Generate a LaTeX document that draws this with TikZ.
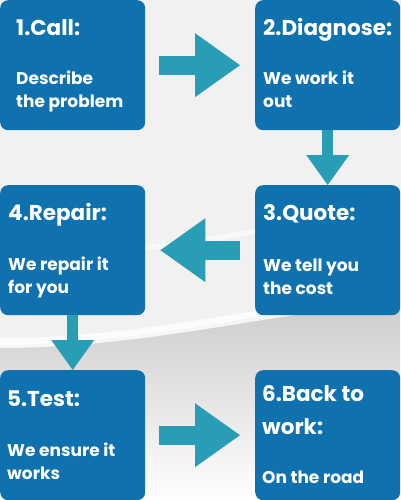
\documentclass[tikz,border=0pt]{standalone}
\usepackage{fontspec}
\setmainfont{Poppins}
\usetikzlibrary{arrows.meta,positioning,calc}
\definecolor{stepblue}{HTML}{0F72AF}
\definecolor{flowteal}{HTML}{2A9DB6}
\definecolor{paper}{HTML}{F1F1F1}
\definecolor{shade}{HTML}{E4E4E4}
\tikzset{
  card/.style={fill=stepblue,rounded corners=8pt,minimum width=145pt,minimum height=130pt,inner sep=0pt,anchor=north west},
  title/.style={anchor=base west,inner sep=0pt,text=white,font=\fontsize{21.5}{33}\selectfont\bfseries,align=left},
  body/.style={anchor=base west,inner sep=0pt,text=white,font=\fontsize{17}{23}\selectfont\bfseries,align=left},
  wide/.style={-{Triangle[length=45pt,width=64pt,line width=0pt]},line width=19pt,draw=flowteal},
  slim/.style={-{Triangle[length=30pt,width=43pt,line width=0pt]},line width=11pt,draw=flowteal},
}

\begin{document}
\begin{tikzpicture}[x=1pt,y=-1pt]
  \useasboundingbox (0,0) rectangle (400,500);
  % background and the white wave
  \fill[shade] (0,0) rectangle (400,500);
  \fill[paper] (0,0) -- (400,0) -- (400,300) .. controls (280,305) and (150,345) .. (0,345) -- cycle;
  \draw[white,line width=10pt,opacity=.8] (0,343) .. controls (150,343) and (280,305) .. (400,298);
  \draw[white,line width=5pt,opacity=.6] (0,250) .. controls (150,260) and (260,230) .. (400,200);

  \node[card] (call) at (0,0) {};
  \node[card] (diagnose) at (255,0) {};
  \node[card] (quote) at (255,185) {};
  \node[card] (repair) at (0,185) {};
  \node[card] (test) at (0,370) {};
  \node[card] (back) at (255,370) {};

  % base of a two-line node = baseline of its last line
  \node[title] (callT) at ([shift={(16,36)}]call.north west) {1.Call:};
  \node[body] (callB) at ([shift={(16,108)}]call.north west) {Describe\\the problem};
  \node[title] (diagnoseT) at ([shift={(8,36)}]diagnose.north west) {2.Diagnose:};
  \node[body] (diagnoseB) at ([shift={(8,108)}]diagnose.north west) {We work it\\out};
  \node[title] (quoteT) at ([shift={(8,35)}]quote.north west) {3.Quote:};
  \node[body] (quoteB) at ([shift={(8,109)}]quote.north west) {We tell you\\the cost};
  \node[title] (repairT) at ([shift={(8,35)}]repair.north west) {4.Repair:};
  \node[body] (repairB) at ([shift={(8,108)}]repair.north west) {We repair it\\for you};
  \node[title] (testT) at ([shift={(7,36)}]test.north west) {5.Test:};
  \node[body] (testB) at ([shift={(7,109)}]test.north west) {We ensure it\\works};
  \node[title] (backT) at ([shift={(7,64)}]back.north west) {6.Back to\\work:};
  \node[body] (backB) at ([shift={(7,113)}]back.north west) {On the road};

  \draw[wide] ([xshift=14pt]call.east) -- ([xshift=-15pt]diagnose.west);
  \draw[slim] (diagnose.south) -- (quote.north);
  \draw[wide] ([xshift=-15pt]quote.west) -- ([xshift=15pt]repair.east);
  \draw[slim] (repair.south) -- (test.north);
  \draw[wide] ([xshift=14pt]test.east) -- ([xshift=-15pt]back.west);
\end{tikzpicture}
\end{document}
